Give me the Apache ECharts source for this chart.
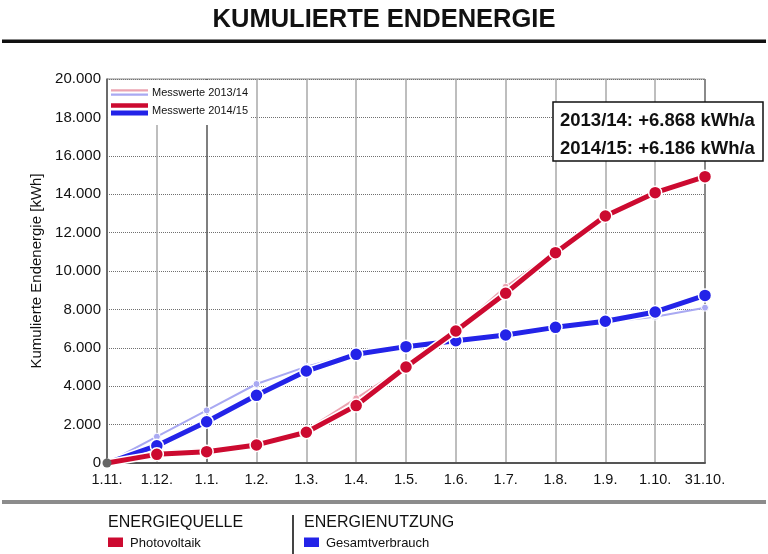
<!DOCTYPE html>
<html>
<head>
<meta charset="utf-8">
<script src="https://cdn.jsdelivr.net/npm/echarts@6/dist/echarts.min.js"></script>
<style>
html,body{margin:0;padding:0;background:#fff;}
#chart{width:768px;height:554px;}
</style>
</head>
<body>
<div id="chart"></div>
<script>
// ---- data ----
var categories = ['1.11.','1.12.','1.1.','1.2.','1.3.','1.4.','1.5.','1.6.','1.7.','1.8.','1.9.','1.10.','31.10.'];
var pv1314   = [0, 590, 710, 1060, 1720, 3370, 5050, 6920, 9180, 11020, 12950, 14110, 14960];
var cons1314 = [0, 1370, 2740, 4115, 5020, 5720, 6060, 6380, 6650, 7050, 7330, 7620, 8090];
var pv1415   = [0, 450, 590, 940, 1600, 2990, 5000, 6875, 8840, 10955, 12865, 14080, 14915];
var cons1415 = [0, 900, 2150, 3525, 4790, 5660, 6060, 6370, 6665, 7065, 7380, 7865, 8730];
var yTicks = [0, 2000, 4000, 6000, 8000, 10000, 12000, 14000, 16000, 18000, 20000];
var legendLabels = ['Messwerte 2013/14', 'Messwerte 2014/15'];
var summaryLines = ['2013/14: +6.868 kWh/a', '2014/15: +6.186 kWh/a'];
var titleText = 'KUMULIERTE ENDENERGIE';
var yAxisTitle = 'Kumulierte Endenergie [kWh]';
var bottomGroups = ['ENERGIEQUELLE', 'ENERGIENUTZUNG'];
var bottomItems = ['Photovoltaik', 'Gesamtverbrauch'];

// ---- styling ----
var FONT = 'Liberation Sans, Arial, Helvetica, sans-serif';
var RED = '#cc0a30', BLUE = '#2323e8', PINK = '#eba3b1', LBLUE = '#a9a9f2';

function fmt(v){ return String(v).replace(/\B(?=(\d{3})+(?!\d))/g, '.'); }

function firstHidden(arr, firstStyle){
  return arr.map(function(v, i){
    if (i === 0) return firstStyle ? Object.assign({value: v}, firstStyle) : {value: v, symbol: 'none'};
    return v;
  });
}

var splitColors = categories.map(function(c, i){
  if (i === 2) return '#555';
  if (i === categories.length - 1) return '#777';
  return '#a8a8a8';
});

var chart = echarts.init(document.getElementById('chart'), null, {renderer: 'canvas'});

var option = {
  backgroundColor: '#fff',
  animation: false,
  textStyle: {fontFamily: FONT},
  title: {
    text: titleText,
    left: 'center',
    top: 7,
    padding: 0,
    textStyle: {fontFamily: FONT, fontSize: 25.5, fontWeight: 'bold', color: '#111'}
  },
  grid: {
    left: 107, right: 63, top: 79, bottom: 91,
    show: true, borderColor: '#888', borderWidth: 1, backgroundColor: 'transparent'
  },
  xAxis: {
    type: 'category',
    data: categories,
    boundaryGap: false,
    axisLine: {lineStyle: {color: '#555', width: 2}},
    axisTick: {show: false},
    axisLabel: {color: '#111', fontSize: 14.5, fontFamily: FONT, margin: 9, interval: 0},
    splitLine: {show: true, lineStyle: {color: splitColors, width: 1.5}}
  },
  yAxis: {
    type: 'value',
    min: yTicks[0],
    max: yTicks[yTicks.length - 1],
    interval: yTicks[1] - yTicks[0],
    name: yAxisTitle,
    nameLocation: 'middle',
    nameGap: 60,
    nameTextStyle: {color: '#111', fontSize: 15, fontFamily: FONT},
    axisLine: {show: true, lineStyle: {color: '#555', width: 1.5}},
    axisTick: {show: false},
    axisLabel: {color: '#111', fontSize: 15, fontFamily: FONT, margin: 6, formatter: fmt},
    splitLine: {show: true, lineStyle: {color: '#707070', width: 1, type: 'dotted'}}
  },
  series: [
    {
      name: 'PV 2013/14', type: 'line', data: firstHidden(pv1314),
      z: 2, symbol: 'circle', symbolSize: 7,
      lineStyle: {color: PINK, width: 2},
      itemStyle: {color: PINK, borderColor: '#fff', borderWidth: 1}
    },
    {
      name: 'Verbrauch 2013/14', type: 'line', data: firstHidden(cons1314),
      z: 2, symbol: 'circle', symbolSize: 7,
      lineStyle: {color: LBLUE, width: 2},
      itemStyle: {color: LBLUE, borderColor: '#fff', borderWidth: 1}
    },
    {
      name: 'Verbrauch 2014/15 Rand', type: 'line', data: cons1415,
      z: 3, symbol: 'none', silent: true,
      lineStyle: {color: '#fff', width: 8}
    },
    {
      name: 'Verbrauch 2014/15', type: 'line', data: firstHidden(cons1415),
      z: 4, symbol: 'circle', symbolSize: 13,
      lineStyle: {color: BLUE, width: 5},
      itemStyle: {color: BLUE, borderColor: '#fff', borderWidth: 1.5}
    },
    {
      name: 'PV 2014/15 Rand', type: 'line', data: pv1415,
      z: 5, symbol: 'none', silent: true,
      lineStyle: {color: '#fff', width: 8}
    },
    {
      name: 'PV 2014/15', type: 'line',
      data: firstHidden(pv1415, {symbolSize: 9, itemStyle: {color: '#666', borderWidth: 0}}),
      z: 6, symbol: 'circle', symbolSize: 13,
      lineStyle: {color: RED, width: 5},
      itemStyle: {color: RED, borderColor: '#fff', borderWidth: 1.5}
    }
  ],
  graphic: [
    // title underline
    {type: 'rect', z: 20, shape: {x: 2, y: 39.5, width: 764, height: 3.5}, style: {fill: '#111'}},
    // legend box inside plot
    {type: 'rect', z: 20, shape: {x: 108, y: 80, width: 142, height: 45}, style: {fill: '#fff'}},
    {type: 'rect', z: 21, shape: {x: 111, y: 89.3, width: 37, height: 2.3}, style: {fill: PINK}},
    {type: 'rect', z: 21, shape: {x: 111, y: 93.4, width: 37, height: 2.3}, style: {fill: LBLUE}},
    {type: 'rect', z: 21, shape: {x: 111, y: 103.3, width: 37, height: 4.4}, style: {fill: RED}},
    {type: 'rect', z: 21, shape: {x: 111, y: 110.6, width: 37, height: 5}, style: {fill: BLUE}},
    {type: 'text', z: 21, x: 152, y: 93, style: {text: legendLabels[0], fill: '#111', font: '11px ' + FONT, verticalAlign: 'middle'}},
    {type: 'text', z: 21, x: 152, y: 110.5, style: {text: legendLabels[1], fill: '#111', font: '11px ' + FONT, verticalAlign: 'middle'}},
    // summary box
    {type: 'rect', z: 20, shape: {x: 553, y: 102, width: 210, height: 59}, style: {fill: '#fff', stroke: '#111', lineWidth: 1.5}},
    {type: 'text', z: 21, x: 560, y: 121, style: {text: summaryLines[0], fill: '#111', font: 'bold 18.5px ' + FONT, verticalAlign: 'middle'}},
    {type: 'text', z: 21, x: 560, y: 149, style: {text: summaryLines[1], fill: '#111', font: 'bold 18.5px ' + FONT, verticalAlign: 'middle'}},
    // bottom separator
    {type: 'rect', z: 20, shape: {x: 2, y: 500, width: 764, height: 4}, style: {fill: '#8c8c8c'}},
    // bottom legend
    {type: 'text', z: 21, x: 108, y: 523, style: {text: bottomGroups[0], fill: '#111', font: '16px ' + FONT, verticalAlign: 'middle'}},
    {type: 'rect', z: 21, shape: {x: 108, y: 537.5, width: 15, height: 9.5}, style: {fill: RED}},
    {type: 'text', z: 21, x: 130, y: 543, style: {text: bottomItems[0], fill: '#111', font: '13px ' + FONT, verticalAlign: 'middle'}},
    {type: 'line', z: 21, shape: {x1: 293, y1: 515, x2: 293, y2: 554}, style: {stroke: '#444', lineWidth: 2}},
    {type: 'text', z: 21, x: 304, y: 523, style: {text: bottomGroups[1], fill: '#111', font: '16px ' + FONT, verticalAlign: 'middle'}},
    {type: 'rect', z: 21, shape: {x: 304, y: 537.5, width: 15, height: 9.5}, style: {fill: BLUE}},
    {type: 'text', z: 21, x: 326, y: 543, style: {text: bottomItems[1], fill: '#111', font: '13px ' + FONT, verticalAlign: 'middle'}}
  ]
};
chart.setOption(option);
</script>
</body>
</html>
